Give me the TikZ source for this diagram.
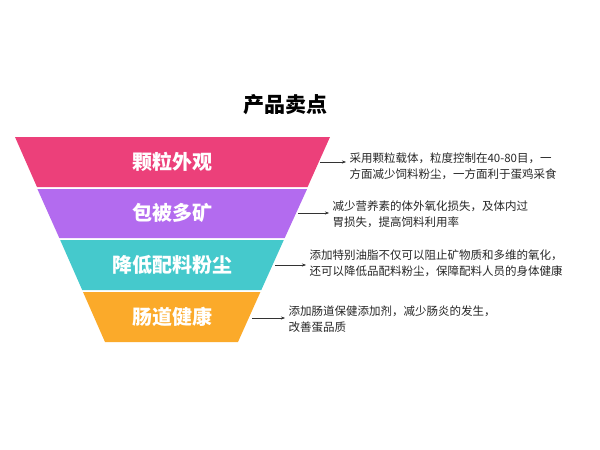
\documentclass[tikz,border=0pt]{standalone}
\usepackage{fontspec}
\newfontfamily\cjk{Noto Sans CJK SC}
\usetikzlibrary{arrows.meta}
\definecolor{bandA}{HTML}{EC407A}
\definecolor{bandB}{HTML}{B36BEF}
\definecolor{bandC}{HTML}{45C9CC}
\definecolor{bandD}{HTML}{FBAA2A}
\tikzset{
  bandlabel/.style={text=white,font=\cjk\bfseries\fontsize{20}{24}\selectfont},
  notetext/.style={anchor=west,align=left,font=\cjk\fontsize{11.5}{16}\selectfont,text=black!85},
  pointer/.style={-{Stealth[length=4pt,width=3pt]},black!80}
}
\begin{document}
\begin{tikzpicture}[x=1pt,y=-1pt]
\useasboundingbox (0,0) rectangle (600,450);

% Title
\node[font=\cjk\bfseries\fontsize{21}{24}\selectfont] (title) at (285,105) {产品卖点};

% Funnel bands
\fill[bandA] (15,137) -- (330,137) -- (307.6,187) -- (37,187) -- cycle;
\fill[bandB] (37.4,189) -- (307.1,189) -- (284.7,238) -- (59.3,238) -- cycle;
\fill[bandC] (60.2,240) -- (283.8,240) -- (261.3,290) -- (82.2,290) -- cycle;
\fill[bandD] (83,292) -- (260.4,292) -- (238,342) -- (105,342) -- cycle;

\node[bandlabel] (b1) at (172,162) {颗粒外观};
\node[bandlabel] (b2) at (172,213) {包被多矿};
\node[bandlabel] (b3) at (172,265) {降低配料粉尘};
\node[bandlabel] (b4) at (172,317) {肠道健康};

% Notes
\node[notetext] (n1) at (346,166) {采用颗粒载体，粒度控制在40-80目，一\\方面减少饲料粉尘，一方面利于蛋鸡采食};
\node[notetext] (n2) at (329,214) {减少营养素的体外氧化损失，及体内过\\胃损失，提高饲料利用率};
\node[notetext] (n3) at (306,263) {添加特别油脂不仅可以阻止矿物质和多维的氧化，\\还可以降低品配料粉尘，保障配料人员的身体健康};
\node[notetext] (n4) at (285,319) {添加肠道保健添加剂，减少肠炎的发生，\\改善蛋品质};

% Pointers
\coordinate (p1) at (320,162);
\coordinate (p2) at (298,213);
\coordinate (p3) at (275,265);
\coordinate (p4) at (252,318);
\draw[pointer] (p1) -- (p1 -| n1.west);
\draw[pointer] (p2) -- (p2 -| n2.west);
\draw[pointer] (p3) -- (p3 -| n3.west);
\draw[pointer] (p4) -- (p4 -| n4.west);
\end{tikzpicture}
\end{document}
